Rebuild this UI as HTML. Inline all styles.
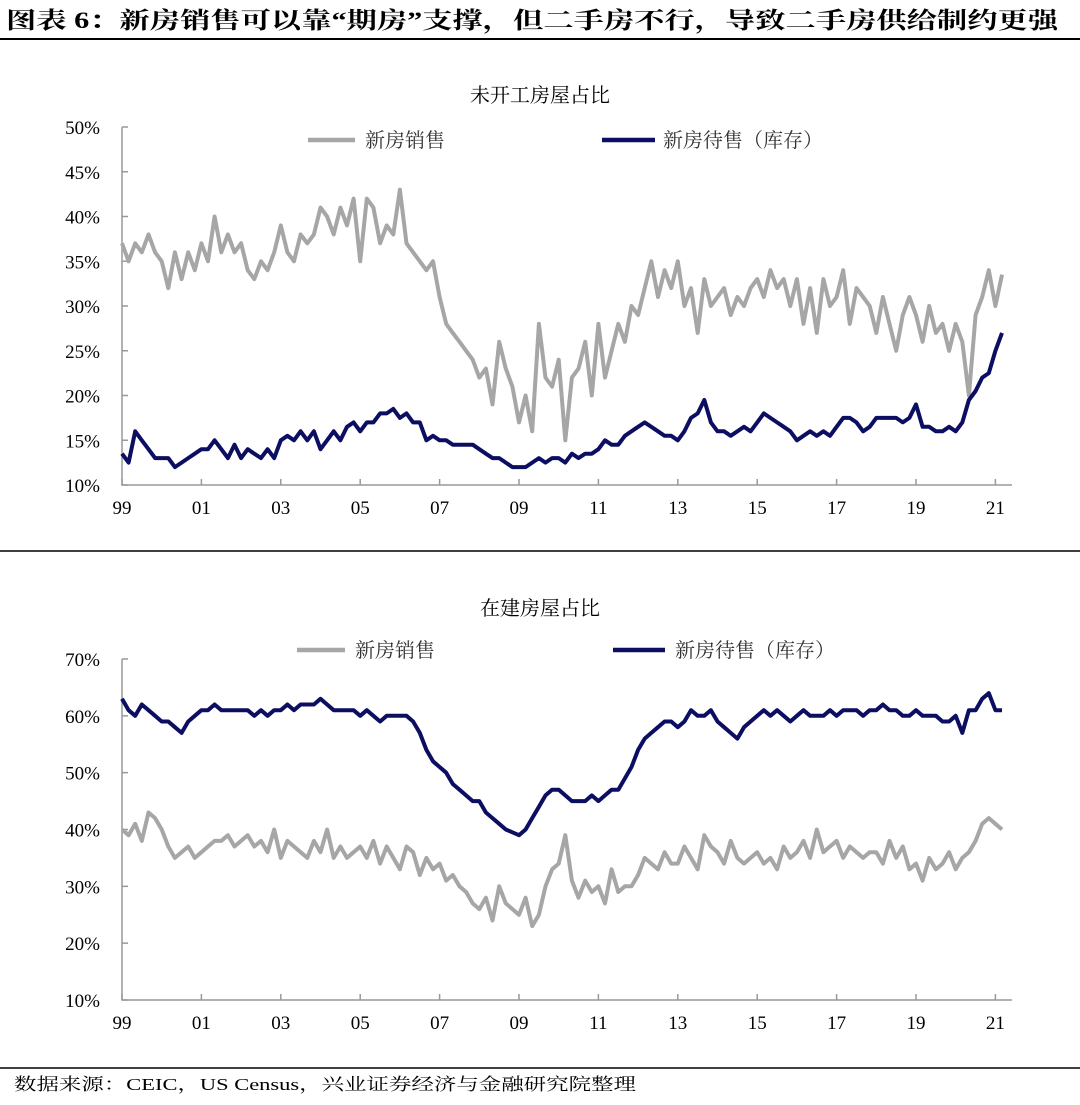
<!DOCTYPE html>
<html><head><meta charset="utf-8">
<style>
body{margin:0;background:#fff;width:1080px;height:1100px;overflow:hidden;font-family:"Liberation Serif","Noto Serif CJK SC",serif;}
svg text{font-family:"Liberation Serif","Noto Serif CJK SC",serif;}
</style></head>
<body>
<svg id="s" width="1080" height="1100" xmlns="http://www.w3.org/2000/svg">
<text x="6" y="28" font-size="23" font-weight="bold" fill="#000" textLength="1052" lengthAdjust="spacingAndGlyphs">图表 6：新房销售可以靠“期房”支撑，但二手房不行，导致二手房供给制约更强</text>
<line x1="0" y1="39" x2="1080" y2="39" stroke="#000" stroke-width="2"/>
<line x1="0" y1="551" x2="1080" y2="551" stroke="#000" stroke-width="1.5"/>
<line x1="0" y1="1068" x2="1080" y2="1068" stroke="#000" stroke-width="1.5"/>
<text x="14" y="1090" font-size="17" fill="#000" textLength="622" lengthAdjust="spacingAndGlyphs">数据来源：CEIC，US Census，兴业证券经济与金融研究院整理</text>
<g id="c1"></g>
<g id="c2"></g>
</svg>
<script>
const xTickLabels=["99","01","03","05","07","09","11","13","15","17","19","21"];
const yTicks1=[10,15,20,25,30,35,40,45,50];
const yTicks2=[10,20,30,40,50,60,70];
const sales1=[37,35,37,36,38,36, 35,32,36,33,36,34, 37,35,40,36,38,36, 37,34,33,35,34,36, 39,36,35,38,37,38, 41,40,38,41,39,42, 35,42,41,37,39,38, 43,37,36,35,34,35, 31,28,27,26,25,24, 22,23,19,26,23,21, 17,20,16,28,22,21, 24,15,22,23,26,20, 28,22,25,28,26,30, 29,32,35,31,34,32, 35,30,32,27,33,30, 31,32,29,31,30,32, 33,31,34,32,33,30, 33,28,32,27,33,30, 31,34,28,32,31,30, 27,31,28,25,29,31, 29,26,30,27,28,25, 28,26,20,29,31,34, 30,33.5];
const inv1=[13.5,12.5,16,15,14,13, 13,13,12,12.5,13,13.5, 14,14,15,14,13,14.5, 13,14,13.5,13,14,13, 15,15.5,15,16,15,16, 14,15,16,15,16.5,17, 16,17,17,18,18,18.5, 17.5,18,17,17,15,15.5, 15,15,14.5,14.5,14.5,14.5, 14,13.5,13,13,12.5,12, 12,12,12.5,13,12.5,13, 13,12.5,13.5,13,13.5,13.5, 14,15,14.5,14.5,15.5,16, 16.5,17,16.5,16,15.5,15.5, 15,16,17.5,18,19.5,17, 16,16,15.5,16,16.5,16, 17,18,17.5,17,16.5,16, 15,15.5,16,15.5,16,15.5, 16.5,17.5,17.5,17,16,16.5, 17.5,17.5,17.5,17.5,17,17.5, 19,16.5,16.5,16,16,16.5, 16,17,19.5,20.5,22,22.5, 25,27];
const sales2=[40,39,41,38,43,42, 40,37,35,36,37,35, 36,37,38,38,39,37, 38,39,37,38,36,40, 35,38,37,36,35,38, 36,40,35,37,35,36, 37,35,38,34,37,35, 33,37,36,32,35,33, 34,31,32,30,29,27, 26,28,24,30,27,26, 25,28,23,25,30,33, 34,39,31,28,31,29, 30,27,33,29,30,30, 32,35,34,33,36,34, 34,37,35,33,39,37, 36,34,38,35,34,35, 36,34,35,33,37,35, 36,38,35,40,36,37, 38,35,37,36,35,36, 36,34,38,35,37,33, 34,31,35,33,34,36, 33,35,36,38,41,42, 41,40];
const inv2=[63,61,60,62,61,60, 59,59,58,57,59,60, 61,61,62,61,61,61, 61,61,60,61,60,61, 61,62,61,62,62,62, 63,62,61,61,61,61, 60,61,60,59,60,60, 60,60,59,57,54,52, 51,50,48,47,46,45, 45,43,42,41,40,39.5, 39,40,42,44,46,47, 47,46,45,45,45,46, 45,46,47,47,49,51, 54,56,57,58,59,59, 58,59,61,60,60,61, 59,58,57,56,58,59, 60,61,60,61,60,59, 60,61,60,60,60,61, 60,61,61,61,60,61, 61,62,61,61,60,60, 61,60,60,60,59,59, 60,57,61,61,63,64, 61,61];

const NS="http://www.w3.org/2000/svg";
function mk(p,tag,a){const e=document.createElementNS(NS,tag);for(const k in a)e.setAttribute(k,a[k]);p.appendChild(e);return e;}
const x0=122, pxYear=39.7;
function xs(i){return x0+(i/6)*pxYear;}
function draw(g,o){
  const ys=v=>o.yB-(v-o.vmin)/(o.vmax-o.vmin)*(o.yB-o.yT);
  const t=mk(g,'text',{x:540,y:o.titleY,'font-size':20,'text-anchor':'middle',fill:'#000'});t.textContent=o.title;
  
  
  const ax=mk(g,'path',{d:`M${x0},${o.yT}V${o.yB}H1012`,stroke:'#999',fill:'none','stroke-width':1.5});
  
  
  o.yt.forEach(v=>{const y=ys(v);
    mk(g,'line',{x1:x0,x2:x0+6,y1:y,y2:y,stroke:'#999','stroke-width':1.5});
    const l=mk(g,'text',{x:x0-22,y:y+7,'font-size':19,'text-anchor':'end',fill:'#000'});l.textContent=v+'%';
    
    });
  xTickLabels.forEach((s,k)=>{const x=x0+k*2*pxYear;
    mk(g,'line',{x1:x,x2:x,y1:o.yB,y2:o.yB-6,stroke:'#999','stroke-width':1.5});
    const l=mk(g,'text',{x:x,y:o.yB+29,'font-size':19,'text-anchor':'middle',fill:'#000'});l.textContent=s;
    
    });
  [[o.s,'#a6a6a6','sales-line'],[o.inv,'#0b0e61','inventory-line']].forEach(([arr,c,n])=>{
    const p=mk(g,'path',{d:arr.map((v,i)=>(i?'L':'M')+xs(i).toFixed(1)+','+ys(v).toFixed(1)).join(''),stroke:c,fill:'none','stroke-width':4,'stroke-linejoin':'round'});
    
    });
  o.leg.forEach(([x1,x2,tx,c,s])=>{
    const lg=mk(g,'g',{});
    
    
    mk(lg,'line',{x1:x1,x2:x2,y1:o.legY,y2:o.legY,stroke:c,'stroke-width':4.5});
    const l=mk(lg,'text',{x:tx,y:o.legY+7,'font-size':20,fill:'#333'});l.textContent=s;});
}
draw(document.getElementById('c1'),{title:'未开工房屋占比',titleY:102,yT:127,yB:485,vmin:10,vmax:50,yt:yTicks1,s:sales1,inv:inv1,legY:140,
  leg:[[308,355,365,'#a6a6a6','新房销售'],[602,655,663,'#0b0e61','新房待售（库存）']]});
draw(document.getElementById('c2'),{title:'在建房屋占比',titleY:615,yT:659,yB:1000,vmin:10,vmax:70,yt:yTicks2,s:sales2,inv:inv2,legY:650,
  leg:[[297,345,355,'#a6a6a6','新房销售'],[613,665,675,'#0b0e61','新房待售（库存）']]});
</script>
</body></html>
